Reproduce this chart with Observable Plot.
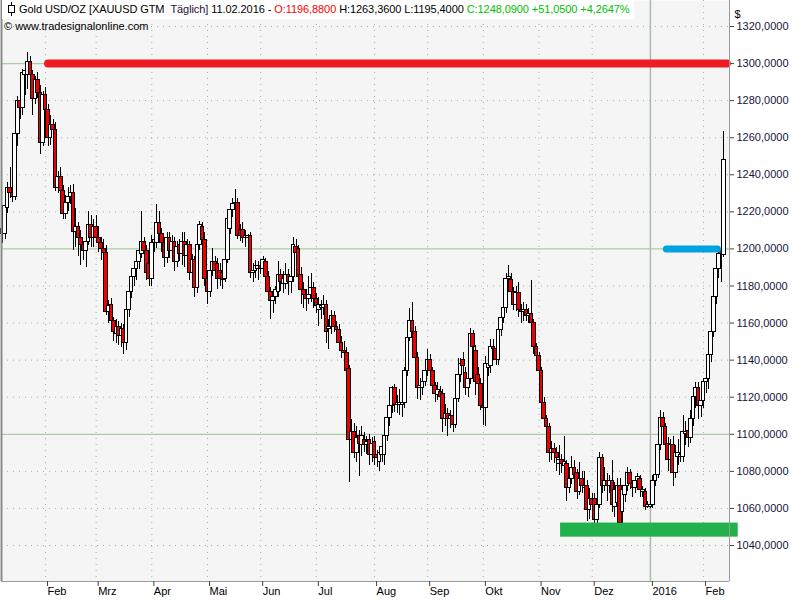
<!DOCTYPE html>
<html><head><meta charset="utf-8">
<script src="https://cdn.jsdelivr.net/npm/d3@7"></script>
<script src="https://cdn.jsdelivr.net/npm/@observablehq/plot@0.6"></script>
<style>
html,body{margin:0;padding:0;background:#fff;}
#wrap{position:relative;width:800px;height:600px;font-family:"Liberation Sans",Arial,sans-serif;}
#chart svg{display:block;}
#title{position:absolute;left:2px;top:0px;height:19px;line-height:19px;background:#fff;font-size:11px;letter-spacing:-0.08px;padding:0 4px 0 5px;white-space:nowrap;color:#000;}
#title svg{vertical-align:-3px;margin-right:3px;}
#src{position:absolute;left:4px;top:19px;font-size:11px;line-height:14px;white-space:nowrap;color:#000;}
</style></head>
<body><div id="wrap"><div id="chart"></div>
<div id="title"><svg width="9" height="14"><line x1="4.5" y1="0" x2="4.5" y2="14" stroke="#000"/><rect x="1.5" y="3.5" width="6" height="7" fill="#fff" stroke="#000"/></svg>Gold USD/OZ [XAUUSD GTM&nbsp;&nbsp;<span style="color:#2a0a3a">Täglich]</span> 11.02.2016 - <span style="color:#ff0000">O:1196,8800</span> H:1263,3600 L:1195,4000 <span style="color:#00c000">C:1248,0900 +51,0500 +4,2647%</span></div>
<div id="src">© www.tradesignalonline.com</div>
</div>
<script>
// Daily candles, 8 Jan 2015 .. 11 Feb 2016 (one entry per trading day)
const open = [
 1211,1208,1222,1233,1230,1228,1262,1280,1276,1294,1294,1301,1294,1281,1291,1284,1257,
 1283,1275,1260,1267,1264,1233,1239,1231,1219,1225,1228,1230,1209,1212,1206,1202,1199,1204,1213,1206,
 1212,1206,1203,1200,1198,1166,1170,1161,1154,1158,1153,1157,1149,1167,1177,1185,1189,1193,1197,1204,1199,1192,
 1184,1203,1203,1214,1208,1203,1195,1206,1199,1204,1193,1202,1197,1204,1196,1202,1187,1194,1179,1202,1212,1205,
 1184,1177,1188,1193,1192,1188,1187,1184,1194,1211,1221,1224,1225,1210,1210,1206,1206,1207,1187,1188,1189,
 1191,1189,1193,1185,1177,1172,1174,1177,1186,1181,1181,1186,1182,1185,1201,1200,1186,1178,1175,1173,1175,1179,
 1173,1167,1168,1168,1170,1157,1158,1164,1158,1156,1149,1145,1144,1135,1097,1101,1090,1099,1094,1097,1094,1097,1089,
 1096,1089,1085,1089,1089,1099,1109,1115,1125,1116,1116,1116,1117,1134,1152,1161,1155,1141,1125,1125,1128,
 1134,1140,1134,1126,1121,1123,1122,1108,1111,1108,1110,1105,1119,1132,1140,1133,1125,1130,1154,1145,1132,1127,
 1115,1114,1136,1137,1147,1146,1140,1156,1163,1168,1184,1183,1177,1170,1176,1167,1166,1167,1164,1165,1160,1147,
 1142,1134,1117,1108,1104,1090,1092,1090,1084,1086,1083,1084,1071,1076,1082,1079,1069,1076,1071,1072,1059,
 1065,1065,1054,1062,1087,1072,1075,1072,1075,1061,1063,1072,1058,1067,1072,1079,1073,1071,1075,1076,1069,1069,1061,
 1061,1062,1075,1078,1094,1109,1104,1095,1086,1094,1079,1088,1088,1088,1100,1102,1098,1108,1120,1125,1115,
 1118,1128,1130,1143,1155,1174,1189,1199,1196.88
];
const high = [
 1214,1225,1236,1244,1237,1267,1282,1284,1297,1299,1306,1304,1296,1293,1295,1288,1285,
 1287,1278,1272,1270,1268,1242,1244,1234,1229,1233,1234,1235,1222,1214,1210,1204,1209,1220,1218,1216,
 1218,1212,1206,1205,1202,1172,1173,1163,1162,1161,1160,1159,1170,1179,1189,1192,1196,1201,1220,1206,1202,1196,
 1207,1210,1224,1220,1211,1205,1209,1209,1207,1206,1204,1205,1209,1209,1205,1204,1197,1196,1205,1215,1214,1209,
 1187,1190,1200,1196,1195,1192,1190,1197,1218,1222,1227,1232,1227,1213,1214,1210,1208,1209,1192,1194,1193,
 1194,1196,1195,1188,1179,1177,1180,1193,1189,1188,1192,1189,1189,1206,1205,1202,1190,1182,1178,1185,1187,1182,
 1176,1174,1172,1175,1172,1162,1167,1166,1161,1159,1153,1150,1147,1137,1108,1106,1104,1102,1104,1101,1099,1100,1098,
 1099,1091,1093,1096,1104,1112,1118,1126,1127,1121,1124,1120,1136,1155,1168,1171,1158,1144,1130,1133,1137,
 1146,1143,1136,1128,1128,1126,1124,1116,1114,1113,1112,1124,1141,1141,1144,1136,1134,1157,1156,1148,1136,1130,
 1119,1142,1141,1151,1151,1150,1160,1167,1172,1187,1191,1187,1179,1180,1182,1170,1171,1170,1168,1183,1162,1149,
 1144,1136,1120,1110,1106,1096,1095,1093,1094,1089,1099,1086,1079,1088,1086,1081,1085,1080,1080,1075,1071,
 1068,1068,1066,1090,1089,1082,1079,1078,1086,1074,1076,1076,1072,1078,1082,1081,1075,1077,1079,1078,1072,1071,1064,
 1063,1078,1083,1096,1113,1112,1106,1098,1097,1099,1094,1097,1092,1110,1107,1106,1113,1124,1128,1128,1123,
 1130,1134,1145,1158,1177,1191,1200,1203,1263.36
];
const low = [
 1203,1205,1219,1227,1225,1226,1255,1270,1272,1283,1286,1288,1272,1278,1281,1251,1255,
 1271,1255,1256,1258,1231,1230,1226,1216,1216,1220,1224,1199,1201,1196,1191,1194,1190,1202,1201,1201,
 1203,1198,1194,1193,1164,1160,1157,1150,1149,1148,1147,1143,1145,1163,1173,1180,1183,1189,1195,1194,1183,1180,
 1180,1198,1200,1204,1198,1190,1192,1195,1196,1188,1190,1193,1191,1190,1192,1183,1184,1174,1176,1199,1201,1180,
 1170,1174,1185,1184,1178,1180,1178,1182,1192,1208,1217,1220,1205,1204,1203,1201,1203,1184,1182,1184,1183,
 1186,1185,1182,1174,1162,1165,1170,1174,1177,1176,1178,1175,1176,1182,1196,1182,1170,1168,1166,1170,1171,1168,
 1165,1158,1162,1164,1149,1146,1154,1155,1152,1146,1141,1140,1131,1074,1092,1087,1085,1077,1088,1090,1089,1083,1085,
 1083,1082,1080,1085,1083,1096,1104,1111,1112,1111,1110,1109,1114,1131,1150,1150,1138,1119,1118,1121,1126,
 1131,1132,1122,1117,1118,1117,1101,1104,1099,1103,1101,1103,1117,1128,1130,1121,1120,1127,1141,1121,1120,1113,
 1105,1104,1131,1133,1141,1137,1137,1153,1160,1165,1178,1175,1167,1166,1163,1160,1161,1161,1160,1157,1143,1138,
 1131,1114,1105,1100,1085,1086,1084,1080,1078,1079,1079,1064,1068,1073,1075,1065,1067,1068,1067,1053,1054,
 1057,1049,1050,1060,1068,1069,1064,1068,1058,1055,1056,1047,1052,1063,1069,1070,1066,1068,1073,1066,1066,1059,1060,
 1060,1060,1072,1076,1091,1100,1090,1080,1082,1072,1076,1083,1085,1085,1094,1093,1095,1104,1114,1108,1109,
 1114,1122,1124,1139,1152,1170,1184,1182,1195.40
];
const close = [
 1208,1223,1233,1230,1228,1262,1280,1276,1295,1296,1301,1294,1281,1291,1284,1257,1283,
 1275,1260,1267,1264,1233,1239,1231,1219,1225,1228,1230,1209,1212,1206,1202,1199,1204,1213,1206,1212,
 1206,1203,1200,1198,1166,1169,1161,1155,1158,1153,1157,1149,1167,1177,1185,1189,1193,1199,1204,1199,1187,1184,
 1203,1205,1214,1208,1203,1195,1206,1199,1204,1193,1201,1197,1204,1196,1202,1187,1194,1179,1202,1213,1205,1184,
 1177,1188,1193,1188,1184,1184,1183,1194,1216,1221,1224,1225,1207,1207,1206,1207,1207,1187,1188,1191,1191,
 1189,1194,1185,1177,1172,1174,1178,1186,1182,1184,1186,1182,1185,1202,1198,1185,1178,1175,1173,1175,1179,1173,
 1169,1170,1169,1170,1155,1158,1164,1158,1156,1149,1145,1144,1134,1097,1101,1090,1098,1095,1099,1094,1096,1089,1095,
 1087,1087,1090,1093,1099,1109,1115,1125,1116,1117,1117,1117,1134,1152,1161,1155,1141,1125,1126,1128,1134,
 1140,1134,1126,1122,1124,1120,1108,1111,1108,1110,1105,1119,1132,1138,1137,1125,1130,1154,1147,1128,1127,1115,
 1114,1138,1138,1147,1146,1140,1156,1163,1168,1184,1185,1177,1170,1176,1167,1166,1167,1164,1165,1160,1147,1142,
 1134,1117,1108,1104,1090,1092,1090,1087,1086,1084,1085,1071,1076,1082,1078,1069,1076,1072,1072,1059,1065,
 1062,1054,1062,1087,1072,1075,1072,1075,1062,1070,1072,1052,1070,1072,1079,1073,1071,1075,1077,1070,1070,1061,1062,
 1062,1075,1078,1094,1109,1104,1094,1086,1094,1079,1090,1090,1089,1101,1101,1098,1108,1120,1125,1115,1118,
 1128,1130,1143,1155,1174,1189,1197,1197,1248.09
];
// first trading day of each month (index into the arrays) and its label
const monthIdx = [17, 37, 59, 81, 102, 124, 147, 168, 190, 212, 233, 256, 277];
const monthLabels = ["Feb","Mrz","Apr","Mai","Jun","Jul","Aug","Sep","Okt","Nov","Dez","2016","Feb"];
const yTicks = [1040,1060,1080,1100,1120,1140,1160,1180,1200,1220,1240,1260,1280,1300,1320];
const keyLevels = [1100, 1200, 1300];
// drawn levels: resistance 1300, breakout 1200, support zone
const levelPrice = [1300, 1200];
const levelFrom = [18.2, 262.5];
const levelTo = [286.4, 282.7];
const supportZone = {from: 220.5, to: 290.7, lo: 1044.5, hi: 1052.1};

const idx = d3.range(close.length);
const xDom = [-0.4, 287.25];
const yDom = [1020.58, 1334.03];
const labelMap = new Map(monthIdx.map((d, i) => [d, monthLabels[i]]));
const yearIdx = monthIdx[monthLabels.indexOf("2016")];
const fmt = d => d.toFixed(4).replace(".", ",");

const chart = Plot.plot({
  width: 800, height: 600,
  marginTop: 0, marginRight: 71, marginBottom: 19, marginLeft: 1,
  x: {domain: xDom},
  y: {domain: yDom},
  style: {fontFamily: "'Liberation Sans', Arial, sans-serif", fontSize: "11px", background: "white", overflow: "visible"},
  marks: [
    Plot.frame({fill: "#f5f5f5", stroke: null}),
    Plot.ruleY(yTicks.filter(v => !keyLevels.includes(v)), {stroke: "#a4b2a4", strokeDasharray: "1,5"}),
    Plot.ruleX(monthIdx.filter(v => v !== yearIdx), {stroke: "#a4b2a4", strokeDasharray: "1,5"}),
    Plot.ruleY(keyLevels, {stroke: "#a9cda1", strokeWidth: 1.2}),
    Plot.ruleX([yearIdx], {stroke: "#acbcac", strokeWidth: 1.5}),
    Plot.ruleX(idx, {x: i => i, y1: i => Math.min(low[i], open[i], close[i]), y2: i => Math.max(high[i], open[i], close[i]), stroke: "#000", strokeWidth: 1, shapeRendering: "crispEdges"}),
    Plot.rect(idx, {x1: i => i - 0.72, x2: i => i + 0.72, y1: i => open[i], y2: i => close[i],
      fill: i => close[i] >= open[i] ? "#ffffff" : "#ee0000", stroke: "#000", strokeWidth: 1, shapeRendering: "crispEdges"}),
    Plot.ruleY([0], {y: () => levelPrice[0], x1: () => levelFrom[0], x2: () => levelTo[0], stroke: "#ed1c24", strokeWidth: 8, strokeLinecap: "round"}),
    Plot.ruleY([0], {y: () => levelPrice[1], x1: () => levelFrom[1], x2: () => levelTo[1], stroke: "#00a2e0", strokeWidth: 7, strokeLinecap: "round"}),
    Plot.rect([supportZone], {x1: "from", x2: "to", y1: "lo", y2: "hi", fill: "#22b14c"}),
    Plot.ruleX([xDom[0]], {stroke: "#8a8a8a", strokeWidth: 2}),
    Plot.ruleX([xDom[1]], {stroke: "#9a9a9a", strokeWidth: 1}),
    Plot.ruleY([yDom[0]], {stroke: "#9a9a9a", strokeWidth: 1}),
    Plot.axisY(yTicks, {anchor: "right", tickSize: 4, tickPadding: 3, tickFormat: fmt, stroke: "#444", fill: "#16143c", label: null}),
    Plot.axisX(monthIdx, {anchor: "bottom", tickSize: 5, tickPadding: 1, tickFormat: d => labelMap.get(d), textAnchor: "start", dx: 2, stroke: "#444", fill: "#000", label: null}),
    Plot.text(["$"], {frameAnchor: "top-right", dx: 5, dy: 10, textAnchor: "start", fill: "#000", fontSize: 11})
  ]
});
document.getElementById("chart").appendChild(chart);
</script>
</body></html>
